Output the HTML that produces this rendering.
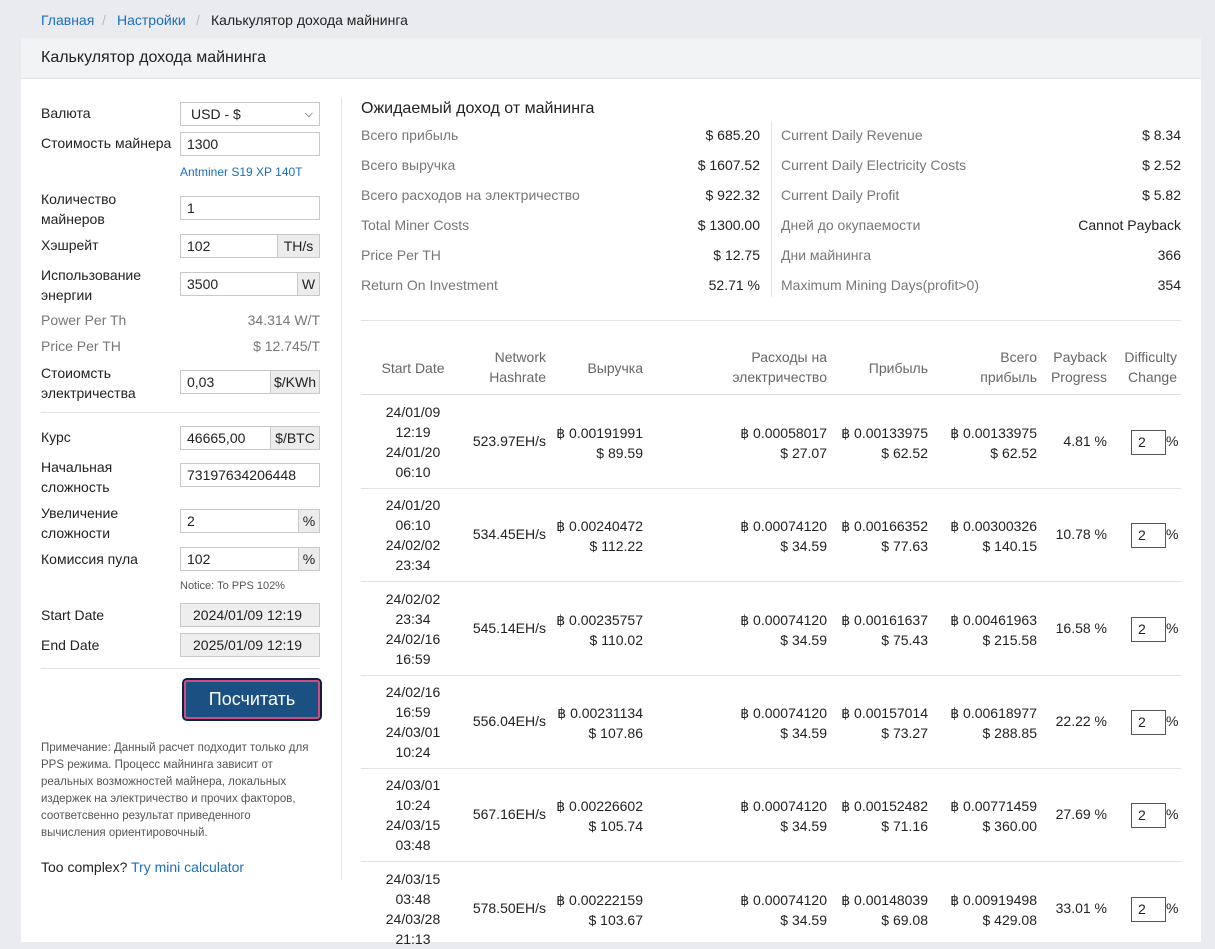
<!DOCTYPE html><html><head><meta charset="utf-8"><style>
*{box-sizing:border-box;margin:0;padding:0}
body{width:1215px;height:942px;overflow:hidden;background:#e9ebee;font-family:"Liberation Sans",sans-serif;font-size:14px;color:#222;position:relative}
.a{position:absolute;white-space:nowrap}
.r{text-align:right}
.g{color:#777}
.inp{position:absolute;height:24px;border:1px solid #c8c8c8;background:#fff;padding-left:6px;line-height:22px;font-size:14px}
.add{position:absolute;height:24px;border:1px solid #c8c8c8;background:#ececec;line-height:22px;text-align:center;font-size:14px}
.dis{background:#eee}
.hl{position:absolute;height:1px;background:#e3e3e3}
.c{text-align:center}
.th{color:#666;line-height:20px}
</style></head><body>
<div class="a" style="left:41px;top:12px;color:#1a6fbf">Главная</div>
<div class="a" style="left:102px;top:12px;color:#bbb">/</div>
<div class="a" style="left:117px;top:12px;color:#1a6fbf">Настройки</div>
<div class="a" style="left:196px;top:12px;color:#bbb">/</div>
<div class="a" style="left:211px;top:12px">Калькулятор дохода майнинга</div>
<div class="a" style="left:21px;top:38px;width:1180px;height:904px;background:#fff"></div>
<div class="a" style="left:21px;top:38px;width:1180px;height:41px;background:#f2f3f5;border-bottom:1px solid #e2e2e2"></div>
<div class="a" style="left:41px;top:49px;font-size:16px">Калькулятор дохода майнинга</div>
<div class="a" style="left:341px;top:98px;width:1px;height:782px;background:#e6e6e6"></div>

<div class="a" style="left:41px;top:105px">Валюта</div>
<div class="inp" style="left:180px;top:102px;width:140px;padding-left:10px">USD - $<span style="position:absolute;right:6px;top:0;font-size:11px">&#9013;</span></div>
<div class="a" style="left:41px;top:135px">Стоимость майнера</div>
<div class="inp" style="left:180px;top:132px;width:140px">1300</div>
<div class="a" style="left:180px;top:165px;font-size:12px;color:#1a6fbf">Antminer S19 XP 140T</div>
<div class="a" style="left:41px;top:189px;line-height:20px">Количество<br>майнеров</div>
<div class="inp" style="left:180px;top:196px;width:140px">1</div>
<div class="a" style="left:41px;top:237px">Хэшрейт</div>
<div class="inp" style="left:180px;top:234px;width:98px">102</div><div class="add" style="left:277px;top:234px;width:43px">TH/s</div>
<div class="a" style="left:41px;top:265px;line-height:20px">Использование<br>энергии</div>
<div class="inp" style="left:180px;top:272px;width:118px">3500</div><div class="add" style="left:297px;top:272px;width:23px">W</div>
<div class="a g" style="left:41px;top:312px">Power Per Th</div>
<div class="a g r" style="left:200px;top:312px;width:120px">34.314 W/T</div>
<div class="a g" style="left:41px;top:338px">Price Per TH</div>
<div class="a g r" style="left:200px;top:338px;width:120px">$ 12.745/T</div>
<div class="a" style="left:41px;top:363px;line-height:20px">Стоиомсть<br>электричества</div>
<div class="inp" style="left:180px;top:370px;width:91px">0,03</div><div class="add" style="left:270px;top:370px;width:50px">$/KWh</div>
<div class="hl" style="left:41px;top:412px;width:279px"></div>
<div class="a" style="left:41px;top:429px">Курс</div>
<div class="inp" style="left:180px;top:426px;width:91px">46665,00</div><div class="add" style="left:270px;top:426px;width:50px">$/BTC</div>
<div class="a" style="left:41px;top:457px;line-height:20px">Начальная<br>сложность</div>
<div class="inp" style="left:180px;top:463px;width:140px">73197634206448</div>
<div class="a" style="left:41px;top:503px;line-height:20px">Увеличение<br>сложности</div>
<div class="inp" style="left:180px;top:509px;width:119px">2</div><div class="add" style="left:298px;top:509px;width:22px">%</div>
<div class="a" style="left:41px;top:551px">Комиссия пула</div>
<div class="inp" style="left:180px;top:547px;width:119px">102</div><div class="add" style="left:298px;top:547px;width:22px">%</div>
<div class="a" style="left:180px;top:580px;font-size:11px;color:#555">Notice: To PPS 102%</div>
<div class="a" style="left:41px;top:607px">Start Date</div>
<div class="inp dis" style="left:180px;top:603px;width:140px;padding-left:12px">2024/01/09 12:19</div>
<div class="a" style="left:41px;top:637px">End Date</div>
<div class="inp dis" style="left:180px;top:633px;width:140px;padding-left:12px">2025/01/09 12:19</div>
<div class="hl" style="left:41px;top:668px;width:279px"></div>
<div class="a c" style="left:184px;top:680px;width:136px;height:39px;background:#1b5082;border:2px solid #d04a86;outline:2px solid #0c2340;border-radius:3px;color:#fff;font-size:18px;line-height:35px">Посчитать</div>
<div class="a" style="left:41px;top:740px;font-size:11.5px;color:#555;line-height:17px;white-space:normal;width:268px">Примечание: Данный расчет подходит только для PPS режима. Процесс майнинга зависит от реальных возможностей майнера, локальных издержек на электричество и прочих факторов, соответсвенно результат приведенного вычисления ориентировочный.</div>
<div class="a" style="left:41px;top:859px">Too complex? <span style="color:#1a6fbf">Try mini calculator</span></div>

<div class="a" style="left:361px;top:100px;font-size:16px">Ожидаемый доход от майнинга</div>
<div class="a" style="left:771px;top:121px;width:1px;height:176px;background:#e6e6e6"></div>
<div id="sum"></div>
<div class="hl" style="left:361px;top:320px;width:820px"></div>

<div class="a th c" style="left:373px;top:358px;width:80px">Start Date</div>
<div class="a th r" style="left:460px;top:347px;width:86px">Network<br>Hashrate</div>
<div class="a th r" style="left:560px;top:358px;width:83px">Выручка</div>
<div class="a th r" style="left:700px;top:347px;width:127px">Расходы на<br>электричество</div>
<div class="a th r" style="left:840px;top:358px;width:88px">Прибыль</div>
<div class="a th r" style="left:940px;top:347px;width:97px">Всего<br>прибыль</div>
<div class="a th r" style="left:1040px;top:347px;width:67px">Payback<br>Progress</div>
<div class="a th r" style="left:1110px;top:347px;width:67px">Difficulty<br>Change</div>
<div class="hl" style="left:361px;top:394px;width:820px;background:#ddd"></div>
<div id="rows"></div>
<script>
var s=[["Всего прибыль","$ 685.20","Current Daily Revenue","$ 8.34"],["Всего выручка","$ 1607.52","Current Daily Electricity Costs","$ 2.52"],["Всего расходов на электричество","$ 922.32","Current Daily Profit","$ 5.82"],["Total Miner Costs","$ 1300.00","Дней до окупаемости","Cannot Payback"],["Price Per TH","$ 12.75","Дни майнинга","366"],["Return On Investment","52.71 %","Maximum Mining Days(profit>0)","354"]];
var h="";s.forEach(function(r,i){var y=127+i*30;
h+='<div class="a g" style="left:361px;top:'+y+'px">'+r[0]+'</div><div class="a r" style="left:600px;top:'+y+'px;width:160px">'+r[1]+'</div><div class="a g" style="left:781px;top:'+y+'px">'+r[2]+'</div><div class="a r" style="left:1000px;top:'+y+'px;width:181px">'+r[3]+'</div>';});
document.getElementById("sum").innerHTML=h;
var d=[["24/01/09","12:19","24/01/20","06:10","523.97EH/s","0.00191991","89.59","0.00058017","27.07","0.00133975","62.52","0.00133975","62.52","4.81 %"],
["24/01/20","06:10","24/02/02","23:34","534.45EH/s","0.00240472","112.22","0.00074120","34.59","0.00166352","77.63","0.00300326","140.15","10.78 %"],
["24/02/02","23:34","24/02/16","16:59","545.14EH/s","0.00235757","110.02","0.00074120","34.59","0.00161637","75.43","0.00461963","215.58","16.58 %"],
["24/02/16","16:59","24/03/01","10:24","556.04EH/s","0.00231134","107.86","0.00074120","34.59","0.00157014","73.27","0.00618977","288.85","22.22 %"],
["24/03/01","10:24","24/03/15","03:48","567.16EH/s","0.00226602","105.74","0.00074120","34.59","0.00152482","71.16","0.00771459","360.00","27.69 %"],
["24/03/15","03:48","24/03/28","21:13","578.50EH/s","0.00222159","103.67","0.00074120","34.59","0.00148039","69.08","0.00919498","429.08","33.01 %"]];
h="";d.forEach(function(r,i){var t=395+i*93.3,m=t+46;
h+='<div class="a c" style="left:373px;top:'+(t+7)+'px;width:80px;line-height:20px">'+r[0]+'<br>'+r[1]+'<br>'+r[2]+'<br>'+r[3]+'</div>';
h+='<div class="a r" style="left:450px;top:'+(m-8)+'px;width:96px">'+r[4]+'</div>';
function two(x,w,b,u){return '<div class="a r" style="left:'+x+'px;top:'+(m-18)+'px;width:'+w+'px;line-height:20px">&#3647; '+b+'<br>$ '+u+'</div>';}
h+=two(543,100,r[5],r[6])+two(727,100,r[7],r[8])+two(828,100,r[9],r[10])+two(937,100,r[11],r[12]);
h+='<div class="a r" style="left:1040px;top:'+(m-8)+'px;width:67px">'+r[13]+'</div>';
h+='<div class="inp" style="left:1131px;top:'+(m-11)+'px;width:35px;height:25px;border-color:#555">2</div><div class="a" style="left:1166px;top:'+(m-8)+'px">%</div>';
if(i<5)h+='<div class="hl" style="left:361px;top:'+Math.round(t+93)+'px;width:820px"></div>';});
document.getElementById("rows").innerHTML=h;
</script>
</body></html>
